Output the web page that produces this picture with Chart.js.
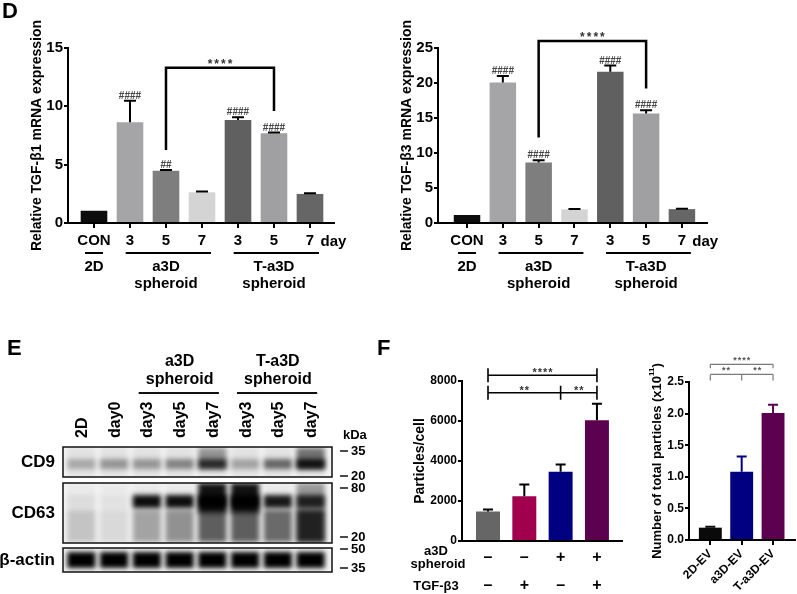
<!DOCTYPE html>
<html>
<head>
<meta charset="utf-8">
<script src="https://cdn.jsdelivr.net/npm/chart.js@4.4.1/dist/chart.umd.min.js"></script>
<style>
  body { margin: 0; background: #fff; }
  #wrap { position: relative; width: 797px; height: 594px; overflow: hidden; }
  canvas { position: absolute; }
</style>
</head>
<body>
<div id="wrap">
  <canvas id="tgfb1" width="400" height="300" style="left:0;top:0"></canvas>
  <canvas id="tgfb3" width="407" height="300" style="left:390px;top:0"></canvas>
  <canvas id="blot" width="400" height="294" style="left:0;top:300px"></canvas>
  <canvas id="perCell" width="260" height="294" style="left:400px;top:300px"></canvas>
  <canvas id="total" width="157" height="294" style="left:640px;top:300px"></canvas>
</div>
<script>
const FONT = "Arial, 'Liberation Sans', Helvetica, sans-serif";

// ---- panel D : qPCR ----
const dayLabels = ['CON', '3', '5', '7', '3', '5', '7'];
const dColors = ['#0d0d0d', '#a5a5a7', '#7e7e7f', '#d4d4d4', '#606060', '#a0a0a2', '#666666'];
const tgfb1Mean = [1.05, 8.63, 4.48, 2.63, 8.83, 7.69, 2.49];
const tgfb1Err = [0, 1.85, 0.06, 0.06, 0.24, 0.06, 0.05];
const tgfb1Hash = ['', '####', '##', '', '####', '####', ''];
const tgfb3Mean = [1.14, 20.07, 8.66, 1.95, 21.6, 15.65, 1.98];
const tgfb3Err = [0, 0.93, 0.3, 0.05, 0.9, 0.45, 0.05];
const tgfb3Hash = ['', '####', '####', '', '####', '####', ''];
const groupNames = [['2D'], ['a3D', 'spheroid'], ['T-a3D', 'spheroid']];
const groupFirst = [0, 1, 4];
const groupLast = [0, 3, 6];

// ---- panel E : western blot ----
const lanes = ['2D', 'day0', 'day3', 'day5', 'day7', 'day3', 'day5', 'day7'];
const cd9Level = [0.3, 0.4, 0.4, 0.5, 0.85, 0.33, 0.65, 1.0];
const cd63Level = [0.06, 0.03, 0.95, 0.95, 1.0, 1.0, 0.9, 0.8];
const cd63Smear = [0.16, 0.07, 0.3, 0.38, 0.6, 0.6, 0.55, 0.78];
const actinLevel = [1, 1, 1, 1, 1, 1, 1, 1];

// ---- panel F : particles ----
const particlesPerCell = [1475, 2240, 3460, 6040];
const particlesErr = [100, 585, 365, 820];
const fColors = ['#666666', '#a0004e', '#000080', '#5c0050'];
const a3dSigns = ['-', '-', '+', '+'];
const tgfSigns = ['-', '+', '-', '+'];
const evLabels = ['2D-EV', 'a3D-EV', 'T-a3D-EV'];
const totalParticles = [0.195, 1.08, 2.01];
const totalErr = [0.015, 0.24, 0.13];
const evColors = ['#0a0a0a', '#000080', '#5c0050'];

Chart.defaults.font.family = FONT;
Chart.defaults.font.weight = 'bold';
Chart.defaults.color = '#000';
Chart.defaults.animation = false;
Chart.defaults.plugins.legend.display = false;
Chart.defaults.plugins.tooltip.enabled = false;

// upper error bars with a cap
const errorBars = {
  id: 'errorBars',
  afterDatasetsDraw(chart) {
    const ds = chart.data.datasets[0];
    const meta = chart.getDatasetMeta(0);
    const y = chart.scales.y;
    const ctx = chart.ctx;
    ctx.save();
    ctx.lineWidth = 2;
    meta.data.forEach((bar, i) => {
      const e = ds.err[i];
      if (!e) return;
      const top = y.getPixelForValue(ds.data[i].y + e);
      ctx.strokeStyle = ds.errColors ? ds.errColors[i] : '#000';
      ctx.beginPath();
      ctx.moveTo(bar.x, bar.y);
      ctx.lineTo(bar.x, top);
      ctx.moveTo(bar.x - ds.cap, top);
      ctx.lineTo(bar.x + ds.cap, top);
      ctx.stroke();
    });
    ctx.restore();
  }
};

function barChart(id, o) {
  return new Chart(document.getElementById(id), {
    type: 'bar',
    data: {
      datasets: [{
        data: o.values.map((v, i) => ({ x: i, y: v })),
        backgroundColor: o.colors,
        barPercentage: o.barPct,
        categoryPercentage: 1,
        err: o.err,
        errColors: o.errColors,
        cap: o.cap
      }]
    },
    options: {
      responsive: false,
      layout: { padding: o.pad },
      scales: {
        x: {
          type: 'linear', min: o.xMin, max: o.xMax, offset: false,
          afterFit: s => { s.height = o.xH; s.paddingLeft = 0; s.paddingRight = 0; },
          grid: { offset: false, drawOnChartArea: false, drawTicks: o.xTicks, tickLength: 5, color: '#000', lineWidth: 2 },
          border: { color: '#000', width: 2 },
          ticks: {
            display: !!o.labels, stepSize: 1, includeBounds: false, autoSkip: false,
            maxRotation: o.rot || 0, minRotation: o.rot || 0, padding: o.xPad,
            font: { size: o.xFont }, callback: v => (o.labels ? o.labels[v] : '')
          }
        },
        y: {
          min: 0, max: o.yMax,
          afterFit: s => { s.width = o.yW; s.paddingTop = 0; s.paddingBottom = 0; },
          grid: { drawOnChartArea: false, tickLength: 4, color: '#000', lineWidth: 2 },
          border: { color: '#000', width: 2 },
          ticks: { stepSize: o.yStep, padding: 1, font: { size: o.yFont }, callback: o.yFmt || (v => String(v)) }
        }
      }
    },
    plugins: [errorBars, o.extra]
  });
}

function drawStars(ctx, text, cx, base, size, spacing, color) {
  ctx.font = 'bold ' + size + 'px ' + FONT;
  ctx.letterSpacing = spacing + 'px';
  ctx.fillStyle = color;
  ctx.textAlign = 'center';
  ctx.textBaseline = 'alphabetic';
  ctx.fillText(text, cx + spacing / 2, base);
  ctx.letterSpacing = '0px';
}

function rotatedText(ctx, text, cx, cy, font) {
  ctx.save();
  ctx.translate(cx, cy);
  ctx.rotate(-Math.PI / 2);
  ctx.font = font;
  ctx.textAlign = 'center';
  ctx.textBaseline = 'middle';
  ctx.fillStyle = '#000';
  ctx.fillText(text, 0, 0);
  ctx.restore();
}

// annotations of the two qPCR charts
const dNotes = (hashes, bracket, title, letter) => ({
  id: 'dNotes',
  afterDraw(chart) {
    const { ctx, chartArea: a, scales: { x, y } } = chart;
    const ds = chart.data.datasets[0];
    ctx.save();
    ctx.font = 'bold 10px ' + FONT;
    ctx.fillStyle = '#444';
    ctx.textAlign = 'center';
    ctx.textBaseline = 'alphabetic';
    hashes.forEach((h, i) => {
      if (h) ctx.fillText(h, x.getPixelForValue(i), y.getPixelForValue(ds.data[i].y + ds.err[i]) - 2);
    });

    const xl = x.getPixelForValue(bracket.from), xr = x.getPixelForValue(bracket.to);
    const yt = y.getPixelForValue(bracket.top);
    ctx.strokeStyle = '#000';
    ctx.lineWidth = 2.5;
    ctx.beginPath();
    ctx.moveTo(xl, y.getPixelForValue(bracket.leftEnd));
    ctx.lineTo(xl, yt);
    ctx.lineTo(xr, yt);
    ctx.lineTo(xr, y.getPixelForValue(bracket.rightEnd));
    ctx.stroke();
    drawStars(ctx, '****', (xl + xr) / 2, yt, 12, 2, '#333');

    // "day", group bars and group names under the axis
    ctx.fillStyle = '#000';
    ctx.font = 'bold 15px ' + FONT;
    ctx.textBaseline = 'middle';
    ctx.fillText('day', x.getPixelForValue(6.65), a.bottom + 19);
    ctx.lineWidth = 2;
    groupNames.forEach((lines, g) => {
      const single = groupFirst[g] === groupLast[g];
      const x1 = x.getPixelForValue(groupFirst[g] - (single ? 0.25 : 0.12));
      const x2 = x.getPixelForValue(groupLast[g] + 0.25);
      ctx.beginPath();
      ctx.moveTo(x1, a.bottom + 30);
      ctx.lineTo(x2, a.bottom + 30);
      ctx.stroke();
      const cx = x.getPixelForValue((groupFirst[g] + groupLast[g]) / 2);
      lines.forEach((t, k) => ctx.fillText(t, cx, a.bottom + 44 + k * 17));
    });

    rotatedText(ctx, title, a.left - 31, (a.top + a.bottom) / 2, 'bold 14px ' + FONT);
    if (letter) {
      ctx.font = 'bold 22px ' + FONT;
      ctx.textAlign = 'left';
      ctx.textBaseline = 'alphabetic';
      ctx.fillText(letter, 2, 18);
    }
    ctx.restore();
  }
});

barChart('tgfb1', {
  values: tgfb1Mean, err: tgfb1Err, colors: dColors, cap: 6, barPct: 0.74,
  pad: { left: 0, top: 48, right: 66, bottom: 0 }, yW: 68, xH: 77,
  xMin: -0.722, xMax: 6.667, xTicks: true, labels: dayLabels, xFont: 15, xPad: 4,
  yMax: 15, yStep: 5, yFont: 15,
  extra: dNotes(tgfb1Hash, { from: 2, to: 5, top: 13.3, leftEnd: 6.25, rightEnd: 9.6 },
    'Relative TGF-\u03b21 mRNA expression', 'D')
});

barChart('tgfb3', {
  values: tgfb3Mean, err: tgfb3Err, colors: dColors, cap: 6, barPct: 0.74,
  pad: { left: 0, top: 48, right: 90, bottom: 0 }, yW: 48, xH: 77,
  xMin: -0.81, xMax: 6.7, xTicks: true, labels: dayLabels, xFont: 15, xPad: 4,
  yMax: 25, yStep: 5, yFont: 15,
  extra: dNotes(tgfb3Hash, { from: 2, to: 5, top: 26, leftEnd: 12.2, rightEnd: 19.2 },
    'Relative TGF-\u03b23 mRNA expression', '')
});

// ---- panel E : the blot, lanes placed on a category scale ----
const blotRows = [
  { name: 'CD9', top: 0, h: 30, marks: ['35', '20'], markY: [4, 29] },
  { name: 'CD63', top: 36, h: 60, marks: ['80', '20'], markY: [5, 54] },
  { name: '\u03b2-actin', top: 101, h: 24, marks: ['50', '35'], markY: [1, 20] }
];

function drawLane(ctx, row, i, cx, lw, top, h) {
  const box = (y0, y1, alpha) => {
    ctx.globalAlpha = Math.max(0, Math.min(1, alpha));
    ctx.fillRect(cx - lw / 2, top + y0, lw, y1 - y0);
  };
  ctx.fillStyle = '#000';
  if (row === 0) {
    box(0, h, 0.07);
    box(12, 22, cd9Level[i] * 0.85);
    if (cd9Level[i] > 0.7) box(1, 22, cd9Level[i] - 0.5);
  } else if (row === 1) {
    box(0, h, 0.04);
    box(27, h - 1, cd63Smear[i]);
    if (cd63Level[i] >= 1) box(0, 30, 0.92);
    box(12, 25, cd63Level[i]);
    if (i === 7) box(0, h, 0.35);
  } else {
    box(4, 20, actinLevel[i]);
  }
  ctx.globalAlpha = 1;
}

const blotNotes = {
  id: 'blotNotes',
  afterDraw(chart) {
    const { ctx, chartArea: a, scales: { x } } = chart;
    const w = x.getPixelForValue(1) - x.getPixelForValue(0);
    const L = a.left - 2, R = a.right + 5;
    ctx.save();
    blotRows.forEach((r, ri) => {
      const top = a.top + r.top;
      ctx.save();
      ctx.beginPath();
      ctx.rect(L, top, R - L, r.h);
      ctx.clip();
      ctx.fillStyle = '#f4f4f4';
      ctx.fillRect(L, top, R - L, r.h);
      ctx.filter = 'blur(2.5px)';
      lanes.forEach((_, i) => drawLane(ctx, ri, i, x.getPixelForValue(i), w * 0.86, top, r.h));
      ctx.restore();
      ctx.strokeStyle = '#111';
      ctx.lineWidth = 1.5;
      ctx.strokeRect(L, top, R - L, r.h);

      ctx.fillStyle = '#000';
      ctx.font = 'bold 17px ' + FONT;
      ctx.textAlign = 'right';
      ctx.textBaseline = 'middle';
      ctx.fillText(r.name, 55, top + r.h / 2);

      ctx.font = 'bold 13px ' + FONT;
      ctx.textAlign = 'left';
      ctx.lineWidth = 1.5;
      r.marks.forEach((m, k) => {
        const my = top + r.markY[k];
        ctx.beginPath();
        ctx.moveTo(R + 8, my);
        ctx.lineTo(R + 16, my);
        ctx.stroke();
        ctx.fillText(m, R + 19, my);
      });
    });

    ctx.font = 'bold 13px ' + FONT;
    ctx.textAlign = 'left';
    ctx.textBaseline = 'middle';
    ctx.fillText('kDa', R + 11, a.top - 12);

    // lane labels
    ctx.font = 'bold 16px ' + FONT;
    lanes.forEach((t, i) => {
      ctx.save();
      ctx.translate(x.getPixelForValue(i) + 1, a.top - 9);
      ctx.rotate(-Math.PI / 2);
      ctx.textAlign = 'left';
      ctx.textBaseline = 'middle';
      ctx.fillText(t, 0, 0);
      ctx.restore();
    });

    // spheroid headers
    ctx.textAlign = 'center';
    ctx.lineWidth = 2;
    [[2, 4, 'a3D'], [5, 7, 'T-a3D']].forEach(([f, l, t]) => {
      const cx = x.getPixelForValue((f + l) / 2);
      ctx.fillText(t, cx, a.top - 85);
      ctx.fillText('spheroid', cx, a.top - 67);
      ctx.beginPath();
      ctx.moveTo(x.getPixelForValue(f) - w * 0.25, a.top - 54);
      ctx.lineTo(x.getPixelForValue(l) + w * 0.2, a.top - 54);
      ctx.stroke();
    });

    ctx.font = 'bold 22px ' + FONT;
    ctx.textAlign = 'left';
    ctx.textBaseline = 'alphabetic';
    ctx.fillText('E', 7, 55);
    ctx.fillText('F', 377, 55);
    ctx.restore();
  }
};

new Chart(document.getElementById('blot'), {
  type: 'bar',
  data: { labels: lanes, datasets: [] },
  options: {
    responsive: false,
    layout: { padding: { left: 65, right: 73, top: 147, bottom: 22 } },
    scales: { x: { display: false, offset: true }, y: { display: false, min: 0, max: 1 } }
  },
  plugins: [blotNotes]
});

// ---- panel F ----
function bracket(ctx, xs, yy, up, down) {
  ctx.beginPath();
  ctx.moveTo(xs[0], yy);
  ctx.lineTo(xs[xs.length - 1], yy);
  xs.forEach(px => { ctx.moveTo(px, yy - up); ctx.lineTo(px, yy + down); });
  ctx.stroke();
}

const perCellNotes = {
  id: 'perCellNotes',
  afterDraw(chart) {
    const { ctx, chartArea: a, scales: { x, y } } = chart;
    const px = i => x.getPixelForValue(i);
    ctx.save();
    ctx.strokeStyle = '#000';
    ctx.lineWidth = 1.6;
    const y1 = y.getPixelForValue(8290), y2 = y.getPixelForValue(7410);
    bracket(ctx, [px(0), px(3)], y1, 7, 7);
    bracket(ctx, [px(0), px(2), px(3)], y2, 7, 7);
    drawStars(ctx, '****', (px(0) + px(3)) / 2, y1 + 1, 11, 1, '#333');
    drawStars(ctx, '**', (px(0) + px(2)) / 2, y2 + 1, 11, 1, '#333');
    drawStars(ctx, '**', (px(2) + px(3)) / 2, y2 + 1, 11, 1, '#333');

    ctx.fillStyle = '#000';
    ctx.textAlign = 'center';
    ctx.textBaseline = 'middle';
    ctx.font = 'bold 16px ' + FONT;
    a3dSigns.forEach((s, i) => ctx.fillText(s === '-' ? '\u2013' : s, px(i), a.bottom + 17));
    tgfSigns.forEach((s, i) => ctx.fillText(s === '-' ? '\u2013' : s, px(i), a.bottom + 45));
    ctx.font = 'bold 13px ' + FONT;
    ctx.fillText('a3D', 36, a.bottom + 10);
    ctx.fillText('spheroid', 38, a.bottom + 23);
    ctx.fillText('TGF-\u03b23', 36, a.bottom + 45);
    rotatedText(ctx, 'Particles/cell', 20, (a.top + a.bottom) / 2, 'bold 14px ' + FONT);
    ctx.restore();
  }
};

barChart('perCell', {
  values: particlesPerCell, err: particlesErr, colors: fColors, cap: 5, barPct: 0.66,
  pad: { left: 0, top: 81, right: 38, bottom: 0 }, yW: 62, xH: 53,
  xMin: -0.716, xMax: 3.69, xTicks: false, labels: null, xFont: 12, xPad: 2,
  yMax: 8000, yStep: 2000, yFont: 12,
  extra: perCellNotes
});

const totalNotes = {
  id: 'totalNotes',
  afterDraw(chart) {
    const { ctx, chartArea: a, scales: { x, y } } = chart;
    const px = i => x.getPixelForValue(i);
    ctx.save();
    ctx.strokeStyle = '#7a7a7a';
    ctx.lineWidth = 1.2;
    const y1 = y.getPixelForValue(2.78), y2 = y.getPixelForValue(2.62);
    bracket(ctx, [px(0), px(2)], y1, 0, 4);
    bracket(ctx, [px(0), px(1), px(2)], y2, 0, 6);
    drawStars(ctx, '****', (px(0) + px(2)) / 2, y1 - 1, 9, 1, '#555');
    drawStars(ctx, '**', (px(0) + px(1)) / 2, y2 - 1, 9, 1, '#555');
    drawStars(ctx, '**', (px(1) + px(2)) / 2, y2 - 1, 9, 1, '#555');

    // axis title with a superscript
    ctx.translate(17, (a.top + a.bottom) / 2);
    ctx.rotate(-Math.PI / 2);
    ctx.fillStyle = '#000';
    ctx.textBaseline = 'middle';
    ctx.textAlign = 'left';
    const main = 'Number of total particles (x10';
    const f1 = 'bold 13px ' + FONT, f2 = 'bold 8px ' + FONT;
    ctx.font = f1; const w1 = ctx.measureText(main).width, w3 = ctx.measureText(')').width;
    ctx.font = f2; const w2 = ctx.measureText('11').width;
    let sx = -(w1 + w2 + w3) / 2;
    ctx.font = f1; ctx.fillText(main, sx, 0); sx += w1;
    ctx.font = f2; ctx.fillText('11', sx, -5); sx += w2;
    ctx.font = f1; ctx.fillText(')', sx, 0);
    ctx.restore();
  }
};

barChart('total', {
  values: totalParticles, err: totalErr, colors: evColors, errColors: evColors, cap: 5, barPct: 0.73,
  pad: { left: 0, top: 82, right: 2, bottom: 0 }, yW: 49, xH: 54,
  xMin: -0.68, xMax: 2.7, xTicks: true, labels: evLabels, xFont: 12, xPad: 2, rot: 45,
  yMax: 2.5, yStep: 0.5, yFont: 12, yFmt: v => v.toFixed(1),
  extra: totalNotes
});
</script>
</body>
</html>
